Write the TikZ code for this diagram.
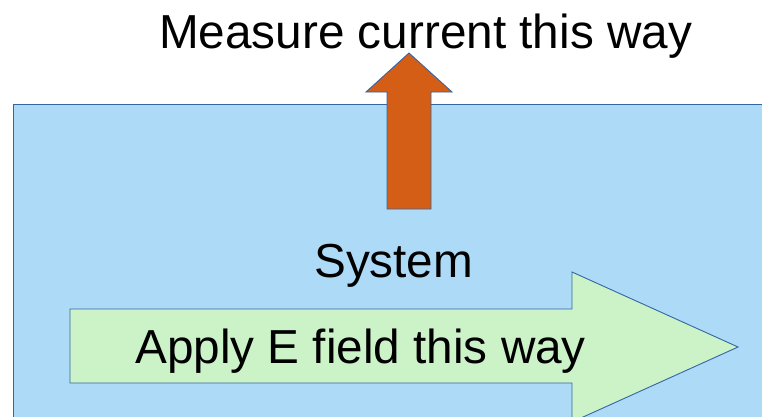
\documentclass[tikz,border=0pt]{standalone}
\usepackage{fontspec}
\setmainfont{Liberation Sans}
\definecolor{sysblue}{RGB}{172,218,247}
\definecolor{edgeblue}{RGB}{52,101,164}
\definecolor{fieldgreen}{RGB}{204,243,200}
\definecolor{curorange}{RGB}{212,94,22}
\tikzset{
  shapeedge/.style={draw=edgeblue, line width=0.9pt, line join=miter},
  bigtext/.style={inner sep=0pt, anchor=base west, font=\fontsize{47.7}{50}\selectfont, text=black}
}
\begin{document}
\begin{tikzpicture}[x=1pt,y=-1pt]
\clip (0,0) rectangle (762,416);
\fill[white] (0,0) rectangle (762,416);
% system box
\filldraw[shapeedge, fill=sysblue] (13,104) rectangle (820,460);
% current arrow
\filldraw[shapeedge, fill=curorange] (387,209) -- (387,92) -- (366,92) -- (409,53) -- (452,92) -- (431,92) -- (431,209) -- cycle;
% field arrow
\filldraw[shapeedge, fill=fieldgreen] (70,309) -- (572,309) -- (572,272) -- (738,347) -- (572,422) -- (572,383) -- (70,383) -- cycle;
% labels
\node[bigtext] (measure) at (159,48) {Measure current this way};
\node[bigtext] (system) at (314,277) {System};
\node[bigtext] (apply) at (135,363) {Apply E field this way};
\end{tikzpicture}
\end{document}
